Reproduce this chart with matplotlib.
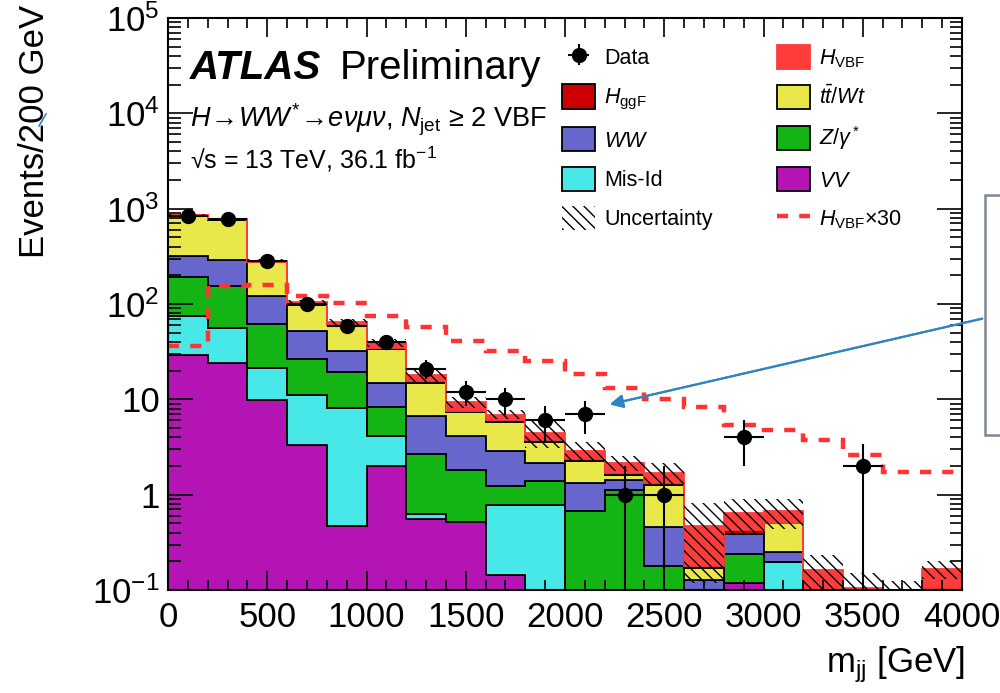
import numpy as np
import matplotlib.pyplot as plt
from matplotlib.patches import Patch, Rectangle
from matplotlib.lines import Line2D

plt.rcParams['font.family'] = ['Liberation Sans', 'DejaVu Sans']
plt.rcParams['mathtext.fontset'] = 'custom'
plt.rcParams['mathtext.rm'] = 'Liberation Sans'
plt.rcParams['mathtext.it'] = 'Liberation Sans:italic'
plt.rcParams['mathtext.bf'] = 'Liberation Sans:bold'
plt.rcParams['hatch.linewidth'] = 1.0

# bin edges, 200 GeV wide
edges = np.arange(0, 4001, 200)

# background / signal contributions per bin (events)
vv    = [29, 23.8, 9.75, 3.3, 0.47, 2.0, 0.55, 0.52, 0.144, 0.02, 0, 0, 0, 0, 0.117, 0, 0, 0, 0, 0]
misid = [45, 31.7, 11.75, 7.8, 7.7, 2.1, 0.08, 0, 0.626, 0.75, 0, 0, 0, 0, 0, 0.194, 0, 0, 0, 0]
zgam  = [117, 97.5, 39.5, 15.7, 11.2, 4.3, 2.07, 1.31, 0.47, 0.61, 0.68, 1.13, 0.176, 0, 0.12, 0, 0, 0, 0, 0]
ww    = [131, 137, 59, 24.8, 12.4, 6.6, 4.0, 2.27, 1.66, 0.77, 0.65, 0.31, 0.284, 0.127, 0.153, 0.056, 0, 0, 0, 0.103]
top   = [528, 476, 155, 47, 28, 19, 8.3, 3.2, 2.9, 1.4, 0.91, 0.18, 0.79, 0.042, 0, 0.25, 0, 0, 0, 0]
ggf   = [5, 5, 3, 1, 0.6, 0.5, 0.4, 0.3, 0.2, 0.15, 0.1, 0.08, 0.06, 0.008, 0.04, 0, 0, 0, 0, 0]
vbf   = [1.5, 5.5, 5.5, 4.5, 5, 4.5, 2.5, 1.8, 0.9, 0.76, 0.56, 0.45, 0.38, 0.29, 0.21, 0.17, 0.16, 0.105, 0.098, 0.063]

# total uncertainty on the prediction
unc = [25, 25, 10, 5, 5, 4, 2.6, 1.2, 0.75, 1.4, 0.7, 0.4, 0.45, 0.35, 0.26, 0.23, 0.07, 0.045, 0.025, 0.035]

# H_VBF x 30 overlay
vbf_x30 = [36, 156, 160, 122, 102, 75, 57, 41, 32, 25, 18.3, 13.3, 10.2, 8.4, 5.4, 4.8, 3.7, 2.6, 1.73, 1.73]

# observed data
data = [830, 770, 280, 100, 59, 40, 21, 12, 10, 6, 7, 1, 1, 0, 4, 0, 0, 2, 0, 0]

layers = [
    (vv, '#b414b4', 'black'),
    (misid, '#48e8e8', 'black'),
    (zgam, '#14b414', 'black'),
    (ww, '#6666cc', 'black'),
    (top, '#e8e84a', 'black'),
    (ggf, '#cc0000', 'black'),
    (vbf, '#ff3c3c', '#ff3c3c'),
]

fig = plt.figure(figsize=(10, 6.93), dpi=100)
ax = fig.add_axes([0.168, 1 - 590 / 693, 0.794, 572 / 693])
ax.set_yscale('log')

floor = 1e-3
bottom = np.full(len(data), floor)
for vals, col, ec in layers:
    upper = bottom + np.array(vals)
    ax.stairs(upper, edges, baseline=bottom, fill=True, facecolor=col,
              edgecolor=ec, linewidth=1.3)
    bottom = upper
total = bottom

# uncertainty band
unc = np.array(unc)
ax.stairs(total + unc, edges, baseline=np.maximum(total - unc, floor), fill=True,
          facecolor='none', edgecolor='black', hatch='\\\\\\', linewidth=0)

# signal x30 overlay
ax.stairs(vbf_x30, edges, baseline=None, color='#ff3333', linestyle=(0, (2.5, 2.5)),
          linewidth=3.2)

# data points
data = np.array(data, dtype=float)
centers = 0.5 * (edges[:-1] + edges[1:])
m = data > 0
err_up = np.sqrt(data[m])
err_lo = np.where(data[m] <= 2, data[m] - 1e-3, np.sqrt(data[m]))
dat = ax.errorbar(centers[m], data[m], xerr=100, yerr=[err_lo, err_up], fmt='o',
                  color='black', markersize=10, elinewidth=1.5, capsize=0)

ax.set_xlim(0, 4000)
ax.set_ylim(0.1, 1e5)
ax.set_xticks(np.arange(0, 4001, 500))
ax.set_xticks(np.arange(0, 4001, 100), minor=True)
ax.set_yticks([0.1, 1, 10, 100, 1e3, 1e4, 1e5])
ax.set_yticklabels([r'$10^{-1}$', '1', '10', r'$10^{2}$', r'$10^{3}$', r'$10^{4}$', r'$10^{5}$'])
ax.tick_params(axis='both', which='both', direction='in', top=True, right=True,
               labelsize=25, width=1.2)
ax.tick_params(axis='y', which='major', length=18, pad=6)
ax.tick_params(axis='y', which='minor', length=9)
ax.tick_params(axis='x', which='major', length=14, pad=8)
ax.tick_params(axis='x', which='minor', length=7)
for s in ax.spines.values():
    s.set_linewidth(1.5)

fig.text(0.035, 1 - 5 / 693, 'Events/200 GeV', rotation=90, va='top', ha='center', fontsize=25)
fig.text(0.965, 1 - 672 / 693, r'm$_{\rm jj}$ [GeV]', ha='right', va='baseline', fontsize=25)

# ATLAS labels
fig.text(0.19, 1 - 79 / 693, 'ATLAS', fontsize=29, fontweight='bold', fontstyle='italic',
         va='baseline')
fig.text(0.34, 1 - 79 / 693, 'Preliminary', fontsize=29, va='baseline')
fig.text(0.19, 1 - 127 / 693,
         r'$H\!\rightarrow\!WW^{*}\!\rightarrow\!e\nu\mu\nu$, $N_{\rm jet}$ ≥ 2 VBF',
         fontsize=19.5, va='baseline')
fig.text(0.19, 1 - 168 / 693, r'√s = 13 TeV, 36.1 fb$^{-1}$', fontsize=18, va='baseline')

# legend
def box(col, ec='black'):
    return Patch(facecolor=col, edgecolor=ec, linewidth=1.3)

handles = [dat, box('#cc0000'), box('#6666cc'), box('#48e8e8'),
           Patch(facecolor='none', edgecolor='black', hatch='\\\\\\', linewidth=0),
           box('#ff3c3c', '#ff3c3c'), box('#e8e84a'), box('#14b414'), box('#b414b4'),
           Line2D([], [], color='#ff3333', linestyle=(0, (2.5, 2.5)), linewidth=3.2)]
labels = ['Data', r'$H_{\rm ggF}$', r'$WW$', 'Mis-Id', 'Uncertainty',
          r'$H_{\rm VBF}$', r'$t\bar{t}/Wt$', r'$Z/\gamma^*$', r'$VV$', r'$H_{\rm VBF}$×30']
fig.legend(handles, labels, ncol=2, loc='upper left', bbox_to_anchor=(0.562, 1 - 45 / 693),
           frameon=False, fontsize=15.5, handlelength=1.55, handleheight=1.35,
           handletextpad=0.4, labelspacing=0.7, columnspacing=3.0, borderaxespad=0,
           borderpad=0)

# annotation box and arrow (cropped on the right)
fig.patches.append(Rectangle((0.985, 1 - 435 / 693), 0.1, 240 / 693, transform=fig.transFigure,
                             facecolor='white', edgecolor='#7f8790', linewidth=1.8))
fig.add_artist(plt.annotate('', xy=(0.607, 1 - 405 / 693), xytext=(0.985, 1 - 318 / 693),
                            xycoords='figure fraction', textcoords='figure fraction',
                            arrowprops=dict(arrowstyle='-|>', color='#2e86c1', lw=1.5,
                                            mutation_scale=20)))
fig.add_artist(Line2D([0.039, 0.046], [1 - 126 / 693, 1 - 114 / 693], color='#2e86c1',
                      lw=1.2, transform=fig.transFigure))

fig.savefig('out.png', dpi=100)
